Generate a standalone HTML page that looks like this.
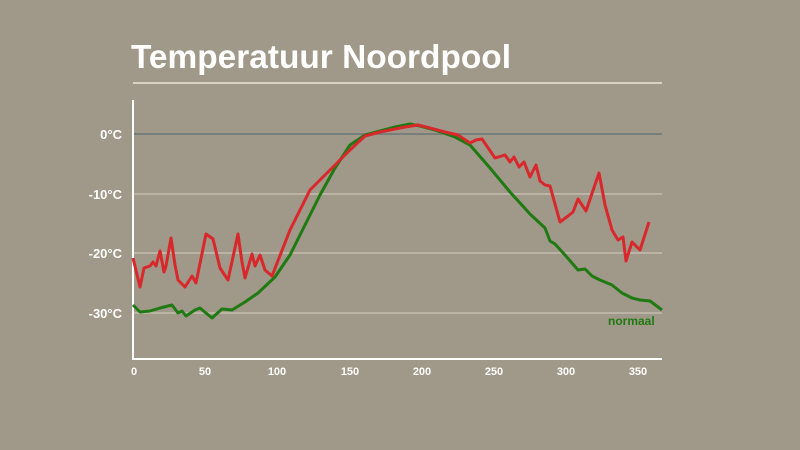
<!DOCTYPE html>
<html><head><style>
html,body{margin:0;padding:0;background:#a09888;}
svg{display:block;font-family:"Liberation Sans",sans-serif;}
</style></head><body>
<svg width="800" height="450" viewBox="0 0 800 450">
<rect width="800" height="450" fill="#a09888"/>
<text x="131" y="68" font-size="33" font-weight="bold" fill="#fff" textLength="380" lengthAdjust="spacingAndGlyphs">Temperatuur Noordpool</text>
<line x1="133" y1="83" x2="662" y2="83" stroke="#d8d2c6" stroke-width="2"/>
<g stroke="#c2bcb0" stroke-width="1.5">
<line x1="133" y1="194" x2="662" y2="194"/>
<line x1="133" y1="253" x2="662" y2="253"/>
<line x1="133" y1="313" x2="662" y2="313"/>
</g>
<line x1="133" y1="134" x2="662" y2="134" stroke="#6a7676" stroke-width="1.5"/>
<g font-size="13" font-weight="bold" fill="#fff" text-anchor="end">
<text x="122" y="139">0°C</text>
<text x="122" y="199">-10°C</text>
<text x="122" y="258">-20°C</text>
<text x="122" y="318">-30°C</text>
</g>
<g font-size="11" font-weight="bold" fill="#fff" text-anchor="middle">
<text x="134" y="375">0</text>
<text x="205" y="375">50</text>
<text x="277" y="375">100</text>
<text x="350" y="375">150</text>
<text x="422" y="375">200</text>
<text x="494" y="375">250</text>
<text x="566" y="375">300</text>
<text x="638" y="375">350</text>
</g>
<polyline fill="none" stroke="#fff" stroke-width="2" points="133,100 133,359 662,359"/>
<polyline fill="none" stroke="#1f7a12" stroke-width="3" stroke-linejoin="round" points="133,305 140,312 150,311 160,308 172,305 178,313 182,311 186,316 195,310 200,308 212,318 222,309 232,310 245,302 258,293 275,277 290,255 305,225 320,195 335,168 350,145 365,135 380,131 395,127 410,124 420,126 435,130 455,137 470,145 490,168 510,192 530,214 545,228 550,241 555,244 565,255 578,270 585,269 592,276 600,280 612,285 622,293 632,298 640,300 650,301 662,310"/>
<polyline fill="none" stroke="#d8282c" stroke-width="3" stroke-linejoin="round" points="133,258 140,287 144,268 150,266 153,262 156,266 160,251 164,272 166,266 171,238 175,265 178,280 185,287 192,276 196,283 206,234 213,239 220,268 228,280 238,234 242,262 245,278 252,254 255,266 260,255 265,270 272,276 290,230 310,190 320,180 335,165 350,150 365,136 380,132 395,129 405,127 418,125 430,128 445,132 458,135 470,143 476,140 482,139 495,158 505,155 510,162 514,157 519,167 524,162 530,177 536,165 540,181 545,185 550,186 560,222 568,216 573,212 578,199 586,211 599,173 605,205 612,230 618,240 623,237 626,261 632,242 640,250 649,222"/>
<text x="608" y="325" font-size="12" font-weight="bold" fill="#1f7a12">normaal</text>
</svg>
</body></html>
